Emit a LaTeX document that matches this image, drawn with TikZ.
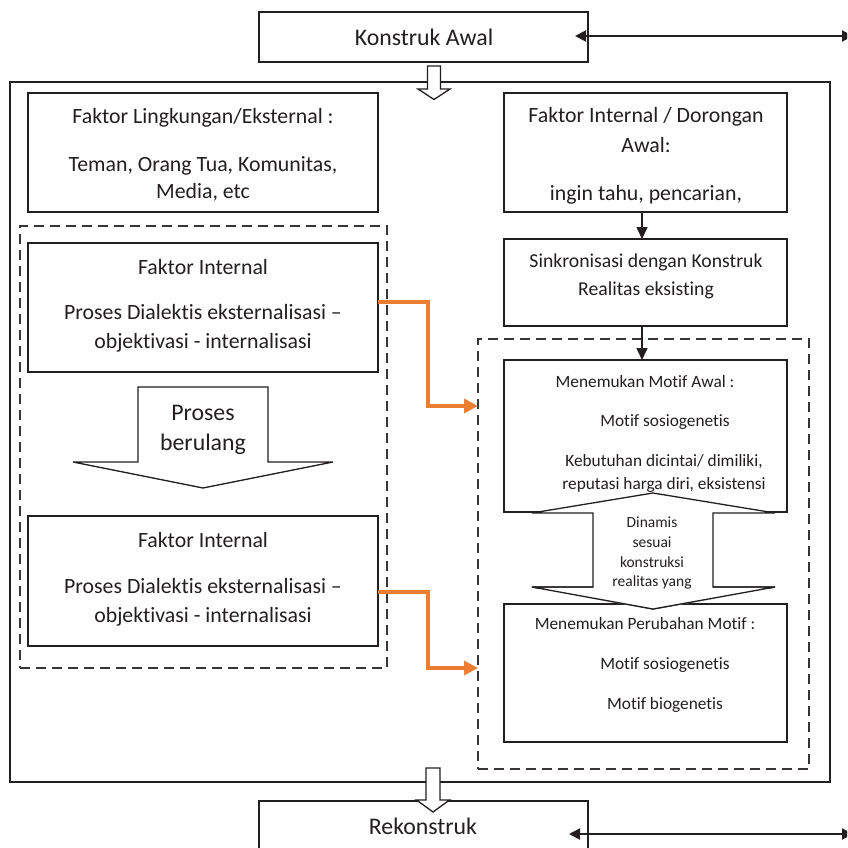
\documentclass[tikz,border=0pt]{standalone}
\usepackage{fontspec}
\setmainfont{Carlito}[Ligatures={NoCommon}]
\usetikzlibrary{arrows.meta,calc}
\definecolor{accent}{RGB}{237,125,49}
\definecolor{ink}{RGB}{35,31,32}
\begin{document}
\begin{tikzpicture}[x=1pt,y=-1pt,
  frame/.style={draw=ink,line width=1.4pt,fill=white,inner sep=0pt,outer sep=0pt},
  dashframe/.style={draw=ink!90,line width=1.4pt,dash pattern=on 10pt off 6pt,inner sep=0pt,outer sep=0pt},
  blockarrow/.style={draw=ink,line width=1.3pt,fill=white,line join=miter},
  lbl/.style={anchor=base,inner sep=0pt,text=ink},
  fhuge/.style={font=\fontsize{23.8}{28}\selectfont},
  fbig/.style={font=\fontsize{21.8}{26}\selectfont},
  fmid/.style={font=\fontsize{19.7}{24}\selectfont},
  fsmall/.style={font=\fontsize{17.3}{21}\selectfont},
  ftiny/.style={font=\fontsize{15.5}{19}\selectfont},
  flow/.style={draw=ink,line width=1.6pt,-{Triangle[length=12pt,width=11pt]}},
  biflow/.style={draw=ink,line width=2pt,{Triangle[length=11pt,width=11pt]}-{Triangle[length=11pt,width=11pt]}},
  feed/.style={draw=accent,line width=4pt,line join=miter,-{Triangle[length=14pt,width=14pt]}}
]
\clip (0,0) rectangle (847,848);
\fill[white] (0,0) rectangle (847,848);

% outer frame
\node[frame,fill=none,minimum width=820pt,minimum height=700pt] (outer) at (420,432) {};

% start and end boxes
\node[frame,minimum width=329pt,minimum height=50pt] (ka) at (423.5,37) {};
\node[lbl,fhuge] (kat) at (424,46) {Konstruk Awal};
\node[frame,minimum width=329pt,minimum height=80pt] (rk) at (423.5,841) {};
\node[lbl,fhuge] (rkt) at (423,834) {Rekonstruk};

% hollow block arrows in and out of the frame
\draw[blockarrow] (427.5,66) -- (440.5,66) -- (440.5,89) -- (450,89) -- (434,99.5)
  -- (418,89) -- (427.5,89) -- cycle;
\draw[blockarrow] (426,768) -- (440,768) -- (440,800) -- (449.5,800) -- (433,812)
  -- (416.5,800) -- (426,800) -- cycle;

% two-way links to the right margin
\coordinate (kaR) at (853,36);
\coordinate (rkR) at (853,834);
\draw[biflow] ([xshift=-13pt,yshift=1pt]ka.east) -- (kaR);
\draw[biflow] (569,834) -- (rkR);

% dashed groups
\node[dashframe,minimum width=367pt,minimum height=442pt] (ld) at (203.5,447) {};
\node[dashframe,minimum width=331pt,minimum height=430pt] (rd) at (643.5,554) {};

% left column
\node[frame,minimum width=350pt,minimum height=119pt] (lb1) at (203,152.5) {};
\node[lbl,fbig] at (203,124) {Faktor Lingkungan/Eksternal :};
\node[lbl,fbig] at (203,171) {Teman, Orang Tua, Komunitas,};
\node[lbl,fbig] at (203,198) {Media, etc};

\node[frame,minimum width=350pt,minimum height=129pt] (lb2) at (203,307.5) {};
\node[lbl,fbig] at (203,274) {Faktor Internal};
\node[lbl,fbig] at (203,319) {Proses Dialektis eksternalisasi –};
\node[lbl,fbig] at (203,348) {objektivasi - internalisasi};

\draw[blockarrow] (138,387) -- (268,387) -- (268,462) -- (333,462) -- (203,488)
  -- (73,462) -- (138,462) -- cycle;
\node[lbl,fhuge] at (203,420) {Proses};
\node[lbl,fhuge] at (203,450) {berulang};

\node[frame,minimum width=350pt,minimum height=130pt] (lb3) at (203,581) {};
\node[lbl,fbig] at (203,547) {Faktor Internal};
\node[lbl,fbig] at (203,593) {Proses Dialektis eksternalisasi –};
\node[lbl,fbig] at (203,622) {objektivasi - internalisasi};

% right column
\node[frame,minimum width=283pt,minimum height=119pt] (rb1) at (645.5,152.5) {};
\node[lbl,fbig] at (646,122) {Faktor Internal / Dorongan};
\node[lbl,fbig] at (646,152) {Awal:};
\node[lbl,fbig] at (646,200) {ingin tahu, pencarian,};

\node[frame,minimum width=283pt,minimum height=87pt] (rb2) at (645.5,282.5) {};
\node[lbl,fmid] at (646,267) {Sinkronisasi dengan Konstruk};
\node[lbl,fmid] at (646,295) {Realitas eksisting};

\node[frame,minimum width=283pt,minimum height=152pt] (rb3) at (645.5,436) {};
\node[lbl,fsmall] at (645,387) {Menemukan Motif Awal :};
\node[lbl,fsmall] at (665,426) {Motif sosiogenetis};
\node[lbl,fsmall] at (664,466) {Kebutuhan dicintai/ dimiliki,};
\node[lbl,fsmall] at (664,489) {reputasi harga diri, eksistensi};

\node[frame,minimum width=283pt,minimum height=138pt] (rb4) at (645.5,673) {};
\node[lbl,fsmall] at (645,629) {Menemukan Perubahan Motif :};
\node[lbl,fsmall] at (665,669) {Motif sosiogenetis};
\node[lbl,fsmall] at (665,709) {Motif biogenetis};

% vertical flow on the right
\draw[flow] (rb1.south -| 642,0) -- (rb2.north -| 642,0);
\draw[flow] (rb2.south -| 642,0) -- (rb3.north -| 642,0);

% two-headed block arrow between the motive boxes
\draw[blockarrow] (653,493) -- (775,513) -- (713,513) -- (713,587) -- (775,587)
  -- (653,609) -- (532,587) -- (593,587) -- (593,513) -- (532,513) -- cycle;
\node[lbl,ftiny] at (652,527) {Dinamis};
\node[lbl,ftiny] at (652,547) {sesuai};
\node[lbl,ftiny] at (652,567) {konstruksi};
\node[lbl,ftiny] at (652,586) {realitas yang};
\fill[white] (532,589) -- (775,589) -- (653,609) -- cycle;
\draw[ink,line width=1.3pt,line join=miter] (593,587) -- (532,587) -- (653,609) -- (775,587) -- (713,587);

% feedback from the left column into the motive group
\coordinate (in1) at (478,406);
\coordinate (in2) at (478,668);
\draw[feed] ([yshift=5.5pt]lb2.east) -- (428,302) -- (428,406) -- (in1);
\draw[feed] ([yshift=-11pt]lb3.east) -- (428,592) -- (428,668) -- (in2);
\end{tikzpicture}
\end{document}
